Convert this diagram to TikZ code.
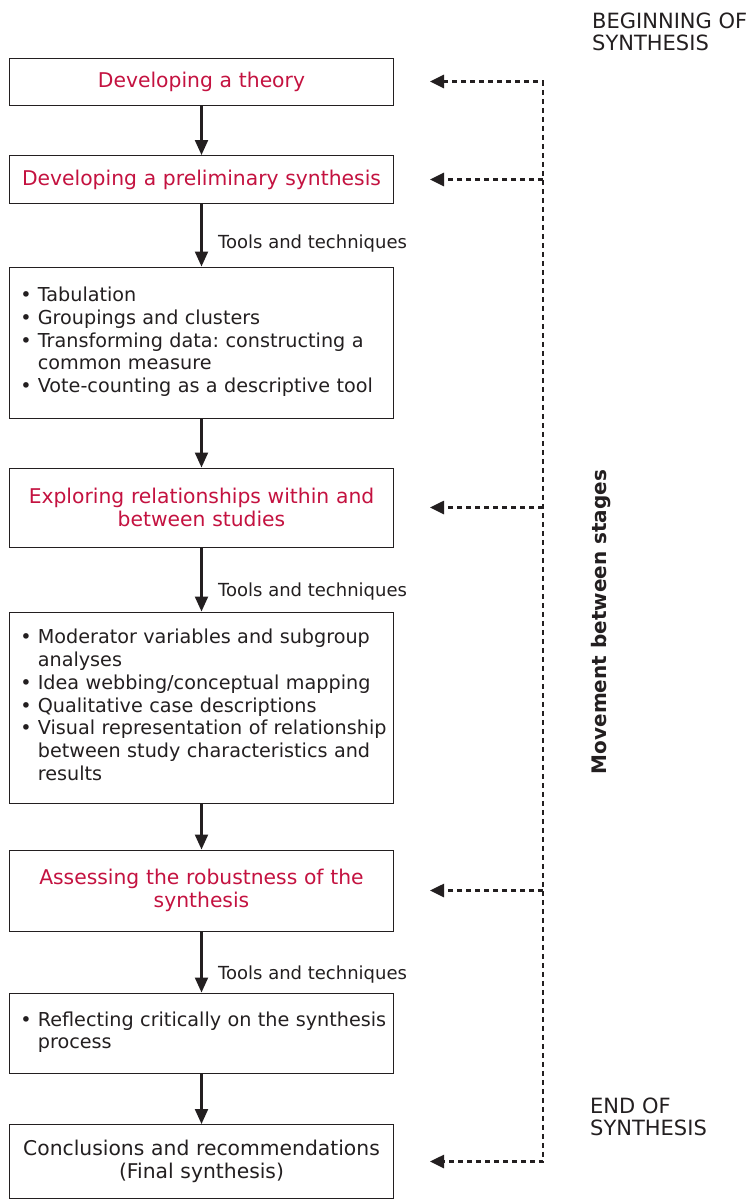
\documentclass[tikz,border=0pt]{standalone}
\usepackage{fontspec}
\setmainfont{DejaVu Sans}
\usetikzlibrary{arrows.meta}
\definecolor{stagered}{RGB}{196,18,64}
\definecolor{ink}{RGB}{35,31,32}
\frenchspacing
\begin{document}
\begin{tikzpicture}[x=1pt,y=-1pt,
  every node/.style={text=ink},
  box/.style={draw=ink, line width=1pt, minimum width=384pt, inner xsep=10pt, inner ysep=0pt,
    text width=364pt, font=\fontsize{20.3}{22.7}\selectfont, align=center},
  listbox/.style={box, align=left, font=\fontsize{19.2}{22.7}\selectfont},
  stage/.style={box, text=stagered},
  flow/.style={draw=ink, -{Triangle[length=15pt,width=13pt]}, line width=2.2pt},
  tools/.style={font=\fontsize{18}{20}\selectfont, anchor=west, inner sep=0pt},
  note/.style={font=\fontsize{21}{22}\selectfont, align=left, anchor=west, inner sep=0pt},
  move/.style={draw=ink, dash pattern=on 5pt off 4pt, line width=2.6pt},
  movearrow/.style={move, -{Triangle[length=14pt,width=13pt]}}]
\useasboundingbox (0,0) rectangle (749,1200);
\fill[white] (0,0) rectangle (749,1200);

\node[stage, minimum height=47pt] (b1) at (201.5,81.5) {Developing a theory};
\node[stage, minimum height=48pt] (b2) at (201.5,179.5) {Developing a preliminary synthesis};
\node[listbox, minimum height=151pt] (b3) at (201.5,342.5) {%
\begin{tabular}{@{\hspace{1pt}}l@{\hspace{6pt}}l@{}}
\textbullet & Tabulation\\
\textbullet & Groupings and clusters\\
\textbullet & Transforming data: constructing a\\
 & common measure\\
\textbullet & Vote-counting as a descriptive tool
\end{tabular}};
\node[stage, minimum height=79pt] (b4) at (201.5,507.5) {Exploring relationships within and\\between studies};
\node[listbox, minimum height=191pt] (b5) at (201.5,707.5) {%
\begin{tabular}{@{\hspace{1pt}}l@{\hspace{6pt}}l@{}}
\textbullet & Moderator variables and subgroup\\
 & analyses\\
\textbullet & Idea webbing/conceptual mapping\\
\textbullet & Qualitative case descriptions\\
\textbullet & Visual representation of relationship\\
 & between study characteristics and\\
 & results
\end{tabular}};
\node[stage, minimum height=81pt] (b6) at (201.5,890.5) {Assessing the robustness of the\\synthesis};
\node[listbox, minimum height=80pt] (b7) at (201.5,1033) {%
\begin{tabular}{@{\hspace{1pt}}l@{\hspace{6pt}}l@{}}
\textbullet & Reflecting critically on the synthesis\\
 & process
\end{tabular}};
\node[box, minimum height=74pt] (b8) at (201.5,1161.5) {Conclusions and recommendations\\(Final synthesis)};

\draw[flow] (b1) -- (b2);
\draw[flow] (b2) -- (b3);
\draw[flow] (b3) -- (b4);
\draw[flow] (b4) -- (b5);
\draw[flow] (b5) -- (b6);
\draw[flow] (b6) -- (b7);
\draw[flow] (b7) -- (b8);

\node[tools] (t1) at (218,244) {Tools and techniques};
\node[tools] (t2) at (218,592) {Tools and techniques};
\node[tools] (t3) at (218,975) {Tools and techniques};

\node[note] (beg) at (592,32) {BEGINNING OF\\SYNTHESIS};
\node[note] (end) at (590,1117) {END OF\\SYNTHESIS};
\node[rotate=90, font=\bfseries\fontsize{20}{22}\selectfont, inner sep=0pt] (mv) at (601,622) {Movement between stages};

\coordinate (tr) at (543,0);
\draw[move, {Triangle[length=14pt,width=13pt]}-{Triangle[length=14pt,width=13pt]}]
  ([xshift=36pt]b1.east) -- (b1.east -| tr) -- (b8.east -| tr) -- ([xshift=36pt]b8.east);
\draw[movearrow] (b2.east -| tr) -- ([xshift=36pt]b2.east);
\draw[movearrow] (b4.east -| tr) -- ([xshift=36pt]b4.east);
\draw[movearrow] (b6.east -| tr) -- ([xshift=36pt]b6.east);
\end{tikzpicture}
\end{document}
